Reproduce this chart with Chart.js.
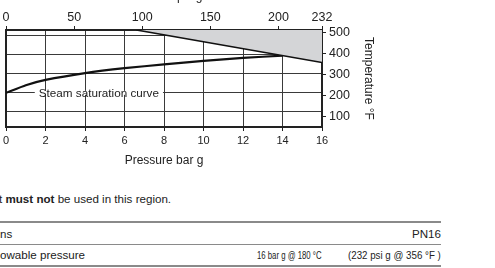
<!DOCTYPE html>
<html>
<head>
<meta charset="utf-8">
<script src="https://cdn.jsdelivr.net/npm/chart.js@4.4.1/dist/chart.umd.min.js"></script>
<style>
  html, body { margin: 0; padding: 0; background: #fff; }
  body { width: 495px; height: 268px; position: relative; overflow: hidden;
         font-family: "Liberation Sans", Arial, sans-serif; color: #222; }
  #wrap { position: absolute; left: 0; top: -12px; width: 380px; height: 184px; }
  .note { position: absolute; left: 0; top: 192px; font-size: 11.6px; white-space: nowrap; }
  .rule { position: absolute; left: 0; width: 441px; background: #8a8a8a; }
  .cell { position: absolute; white-space: nowrap; font-size: 11.6px; }
  .narrow { transform-origin: 0 50%; }
</style>
</head>
<body>
<div id="wrap"><canvas id="limitChart"></canvas></div>

<div class="note"><span style="margin-left:-1px">t</span> <b>must not</b> be used in this region.</div>
<div class="rule" style="top:221px;height:2px"></div>
<div class="cell" style="left:0;top:227px">ns</div>
<div class="cell" style="right:54px;top:227px">PN16</div>
<div class="rule" style="top:244px;height:1px"></div>
<div class="cell" style="left:0;top:248px">owable pressure</div>
<div class="cell narrow" style="left:257px;top:248px;transform:scaleX(0.67)">16 bar g @ 180 °C</div>
<div class="cell narrow" style="left:348px;top:248px;transform:scaleX(0.84)">(232 psi g @ 356 °F )</div>
<div class="rule" style="top:265px;height:2px"></div>

<script>
// steam saturation curve (bar g -> °C)
var satBar = [0, 1, 2, 4, 6, 8, 10, 12, 14];
var satC = [100, 120, 134, 152, 165, 175, 184, 192, 198];

// body design limit line (bar g -> °C)
var limitBar = [6.6, 16];
var limitC = [265.5, 180];

// axis ticks
var barTicks = [0, 2, 4, 6, 8, 10, 12, 14, 16];
var psiTicks = [0, 50, 100, 150, 200, 232];
var fTicks = [100, 200, 300, 400, 500];
var cTicks = [50, 100, 150, 200, 250];

var ink = '#222';
var lineCol = '#3a3a3a';
var smallFont = { family: 'Liberation Sans', size: 11 };
var bigFont = { family: 'Liberation Sans', size: 12.5 };
var titleFont = { family: 'Liberation Sans', size: 12 };

function pts(xs, ys) {
  return xs.map(function (x, i) { return { x: x, y: ys[i] }; });
}
function setTicks(list) {
  return function (scale) {
    scale.ticks = list.map(function (v) { return { value: v }; });
  };
}

var curveLabel = {
  id: 'curveLabel',
  afterDatasetsDraw: function (chart) {
    var ctx = chart.ctx;
    var x = chart.scales.x.getPixelForValue(4.7);
    var y = chart.scales.y.getPixelForValue(100);
    ctx.save();
    ctx.font = '11.7px "Liberation Sans", Arial, sans-serif';
    var w = ctx.measureText('Steam saturation curve').width;
    ctx.fillStyle = '#fff';
    ctx.fillRect(x - w / 2 - 4, y - 2, w + 8, 4);
    ctx.fillStyle = ink;
    ctx.textAlign = 'center';
    ctx.textBaseline = 'middle';
    ctx.fillText('Steam saturation curve', x, y + 1);
    ctx.restore();
  }
};

new Chart(document.getElementById('limitChart'), {
  type: 'line',
  data: {
    datasets: [{
        label: 'Limit',
        data: pts(limitBar, limitC),
        borderColor: '#111',
        borderWidth: 1.6,
        backgroundColor: '#d4d5d7',
        fill: 'end',
        pointRadius: 0,
        tension: 0
      }, {
        label: 'Steam saturation curve',
        data: pts(satBar, satC),
        borderColor: '#111',
        borderWidth: 2.2,
        fill: false,
        pointRadius: 0,
        tension: 0.15
      }
    ]
  },
  options: {
    responsive: true,
    maintainAspectRatio: false,
    animation: false,
    events: [],
    layout: { padding: { left: 4, right: 0, top: 0, bottom: 0 } },
    plugins: { legend: { display: false }, tooltip: { enabled: false } },
    scales: {
      x: {
        type: 'linear', position: 'bottom', min: 0, max: 16,
        afterBuildTicks: setTicks(barTicks),
        afterFit: function (s) { s.height = 45; },
        grid: { color: lineCol, lineWidth: 1, tickLength: 4, tickColor: ink },
        border: { color: ink, width: 2 },
        ticks: { color: ink, font: smallFont, padding: 3, maxRotation: 0 },
        title: { display: true, text: 'Pressure bar g', color: ink, font: titleFont }
      },
      psi: {
        type: 'linear', position: 'top', min: 0, max: 232,
        afterBuildTicks: setTicks(psiTicks),
        afterFit: function (s) { s.height = 42; },
        grid: { drawOnChartArea: false, tickLength: 4, tickColor: ink },
        border: { color: ink, width: 2 },
        ticks: { color: ink, font: bigFont, padding: 1, maxRotation: 0 },
        title: { display: true, text: 'Pressure psi g', color: ink, font: titleFont,
                 padding: { top: 1, bottom: 4 } }
      },
      y: {
        type: 'linear', position: 'left', min: 10, max: 265.56,
        afterBuildTicks: setTicks(cTicks),
        afterFit: function (s) { s.width = 0; },
        grid: { color: lineCol, lineWidth: 1, drawTicks: false },
        border: { color: ink, width: 2 },
        ticks: { display: false }
      },
      f: {
        type: 'linear', position: 'right', min: 50, max: 510,
        afterBuildTicks: setTicks(fTicks),
        afterFit: function (s) { s.width = 58; },
        grid: { drawOnChartArea: false, tickLength: 4, tickColor: ink },
        border: { color: ink, width: 2 },
        ticks: { color: ink, font: bigFont, padding: 3 },
        title: { display: true, text: 'Temperature °F', color: ink, font: titleFont }
      }
    }
  },
  plugins: [curveLabel]
});
</script>
</body>
</html>
